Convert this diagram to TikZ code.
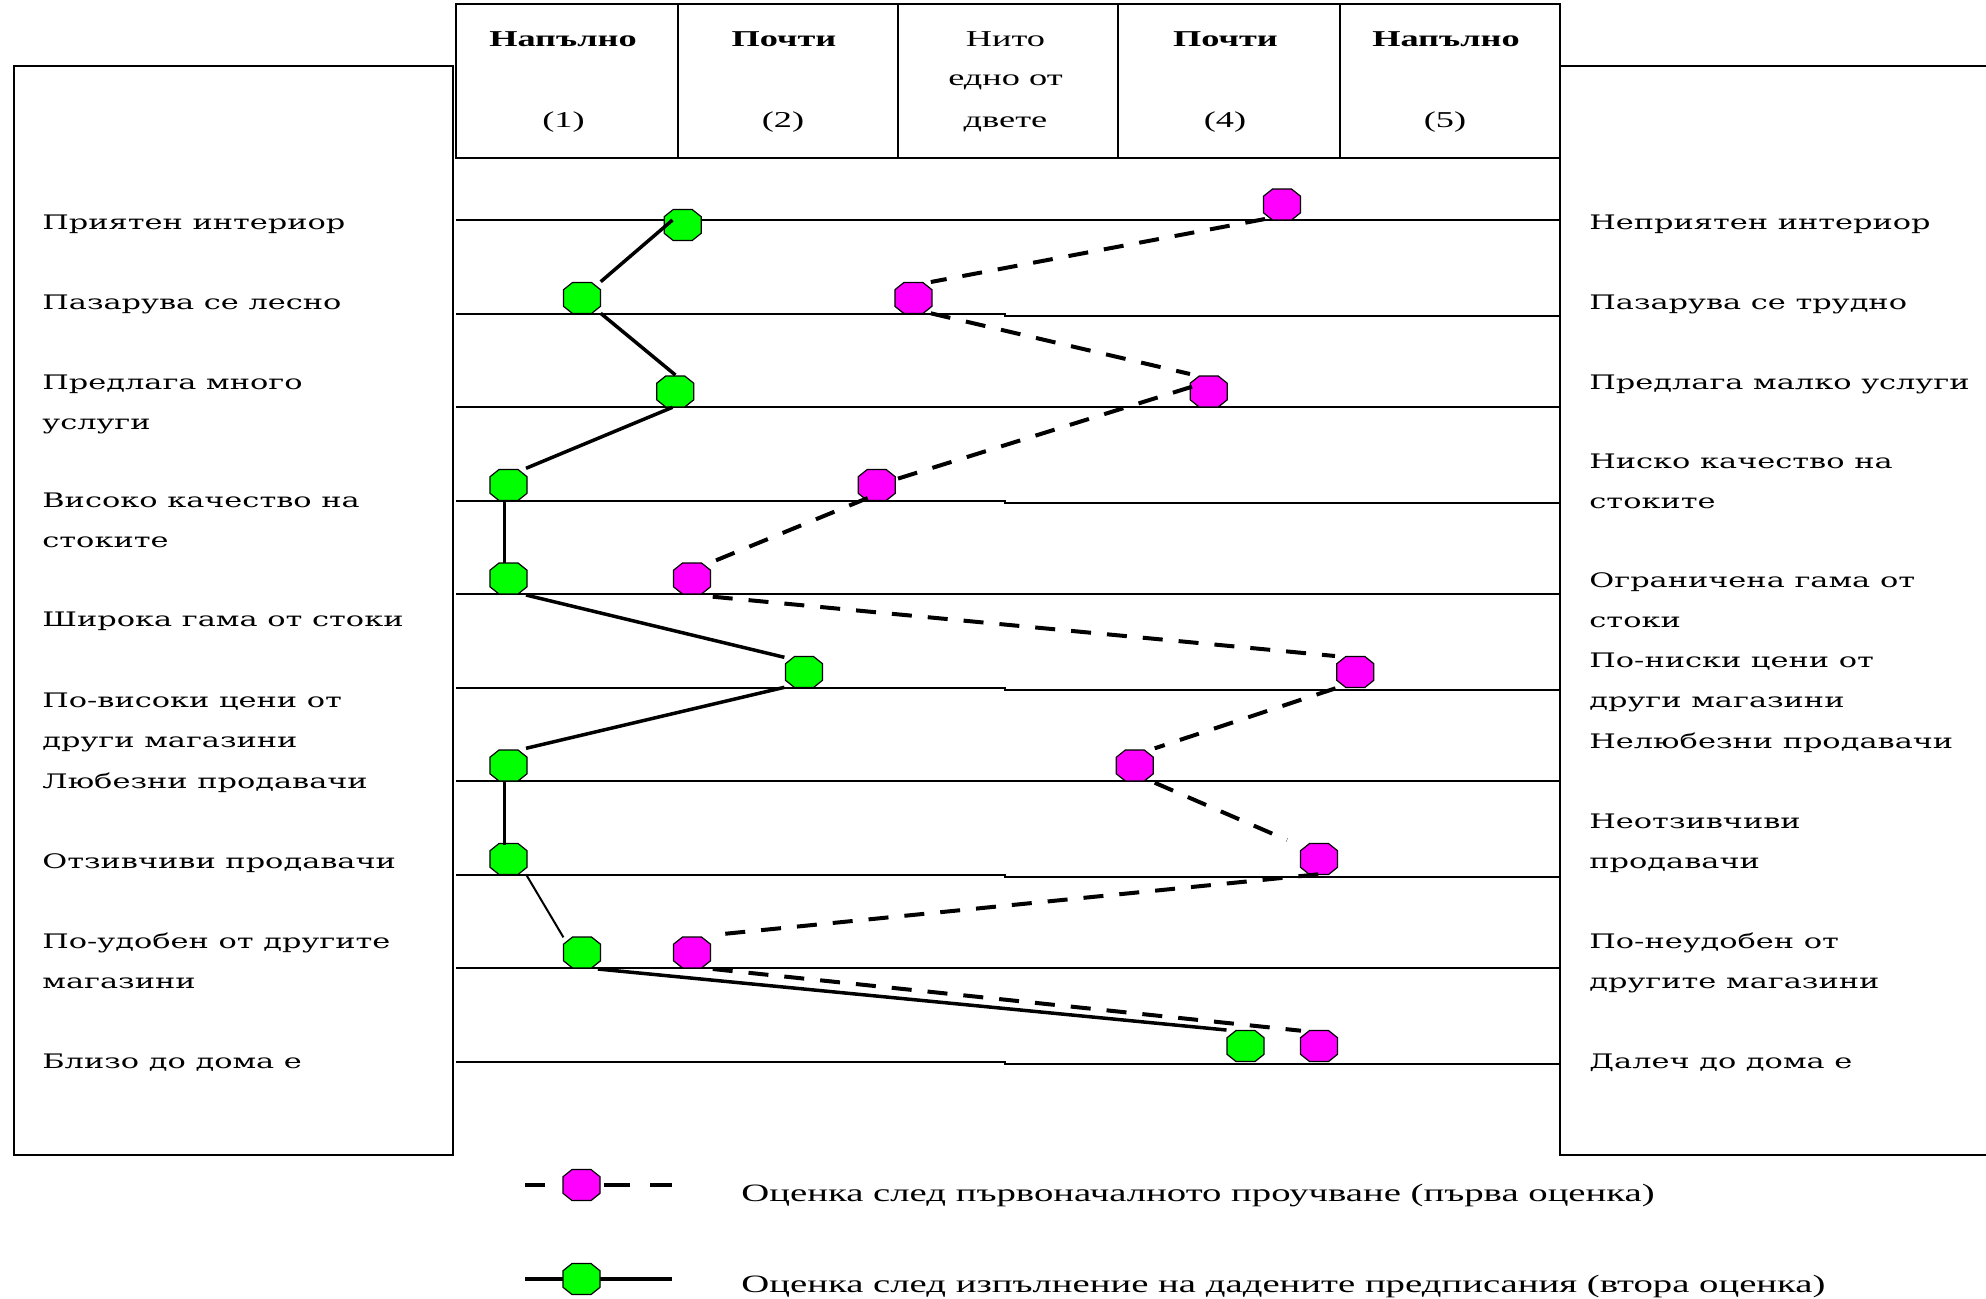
\documentclass[tikz,border=0pt]{standalone}
\usepackage{fontspec}
\setmainfont{Liberation Serif}
\newfontfamily\sidefont[FakeStretch=1.52]{DejaVu Serif}
\newfontfamily\headfont[FakeStretch=1.6]{Liberation Serif}
\newfontfamily\keyfont[FakeStretch=1.55]{Liberation Serif}
\usetikzlibrary{calc}
\definecolor{dotgreen}{RGB}{0,255,0}
\definecolor{dotmagenta}{RGB}{255,0,255}
\begin{document}
\begin{tikzpicture}[x=0.5pt,y=-0.5pt,
  frame/.style={draw=black,line width=1.25pt},
  rowline/.style={draw=black,line width=1pt},
  side/.style={anchor=base west,inner sep=0pt,align=left,
    font=\sidefont\fontsize{10}{20}\selectfont},
  head/.style={anchor=base,inner sep=0pt,font=\headfont\fontsize{11.35}{20}\selectfont},
  headbold/.style={head,font=\headfont\bfseries\fontsize{11.35}{20}\selectfont},
  keytext/.style={anchor=base west,inner sep=0pt,font=\keyfont\fontsize{12.5}{20}\selectfont},
  pics/octa/.style={code={
    \filldraw[fill=#1,draw=black,line width=0.6pt]
      (-4.75pt,7.75pt) -- (4.75pt,7.75pt) -- (9.25pt,4.15pt) -- (9.25pt,-4.15pt)
      -- (4.75pt,-7.75pt) -- (-4.75pt,-7.75pt) -- (-9.25pt,-4.15pt) -- (-9.25pt,4.15pt)
      -- cycle;}},
  firstline/.style={line width=2pt,dash pattern=on 10pt off 8pt},
  secondline/.style={line width=1.75pt},
]
\useasboundingbox[fill=white] (0,0) rectangle (1986,1298);

% side boxes
\draw[frame] (14,66) rectangle (453,1155);
\draw[frame] (1560,66) rectangle (2010,1155);

% scale header
\draw[frame] (456,4) rectangle (1560,158);
\foreach \cx in {678,898,1118,1340} \draw[frame] (\cx,4) -- (\cx,158);

\node[headbold] (h1) at (563,46.7) {Напълно};
\node[headbold] (h2) at (784,46.7) {Почти};
\node[head]     (h3) at (1005.5,46.7) {Нито};
\node[headbold] (h4) at (1225.5,46.7) {Почти};
\node[headbold] (h5) at (1446,46.7) {Напълно};
\node[head] (h3b) at (1005.5,85) {едно от};
\node[head] (n1) at (563.5,127) {(1)};
\node[head] (n2) at (783,127) {(2)};
\node[head] (h3c) at (1005.5,127) {двете};
\node[head] (n4) at (1225,127) {(4)};
\node[head] (n5) at (1445,127) {(5)};

% row lines
\foreach \yy in {220,407,594,781,968}
  \draw[rowline] (456,\yy) -- (1560,\yy);
\foreach \yy in {313.5,500.5,687.5,874.5,1061.5}
  \draw[rowline] (456,\yy) -- (1005,\yy) -- (1005,\yy+2) -- (1560,\yy+2);

% left-hand labels (multi-line ones are placed by their last baseline)
\node[side] (l1) at (42,229.4) {Приятен интериор};
\node[side] (l2) at (42,309.5) {Пазарува се лесно};
\node[side] (l3) at (42,429) {Предлага много\\услуги};
\node[side] (l4) at (42,547) {Високо качество на\\стоките};
\node[side] (l5) at (42,626) {Широка гама от стоки};
\node[side] (l6) at (42,747.7) {По-високи цени от\\други магазини};
\node[side] (l7) at (42,788) {Любезни продавачи};
\node[side] (l8) at (42,868) {Отзивчиви продавачи};
\node[side] (l9) at (42,988) {По-удобен от другите\\магазини};
\node[side] (l10) at (42,1068.6) {Близо до дома е};

% right-hand labels
\node[side] (r1) at (1589,229.4) {Неприятен интериор};
\node[side] (r2) at (1589,309.5) {Пазарува се трудно};
\node[side] (r3) at (1589,389) {Предлага малко услуги};
\node[side] (r4) at (1589,508) {Ниско качество на\\стоките};
\node[side] (r5) at (1589,627.5) {Ограничена гама от\\стоки};
\node[side] (r6) at (1589,707.6) {По-ниски цени от\\други магазини};
\node[side] (r7) at (1589,748) {Нелюбезни продавачи};
\node[side] (r8) at (1589,868) {Неотзивчиви\\продавачи};
\node[side] (r9) at (1589,988) {По-неудобен от\\другите магазини};
\node[side] (r10) at (1589,1068.6) {Далеч до дома е};

% second evaluation points
\coordinate (g1) at (682.7,225);
\coordinate (g2) at (582,298);
\coordinate (g3) at (675.2,391.5);
\coordinate (g4) at (508.5,485);
\coordinate (g5) at (508.5,578.5);
\coordinate (g6) at (804,672);
\coordinate (g7) at (508.5,765.5);
\coordinate (g8) at (508.5,859);
\coordinate (g9) at (582,952.5);
\coordinate (g10) at (1245.5,1046);

% first evaluation points
\coordinate (m1) at (1282,204.5);
\coordinate (m2) at (913.4,298);
\coordinate (m3) at (1208.7,391.5);
\coordinate (m4) at (876.7,485);
\coordinate (m5) at (692,578.5);
\coordinate (m6) at (1355.3,672);
\coordinate (m7) at (1134.8,765.5);
\coordinate (m8) at (1319,859);
\coordinate (m9) at (692,952.5);
\coordinate (m10) at (1319,1046);

\foreach \p in {g1,g2,g3,g4,g5,g6,g7,g8,g9,g10} \pic at (\p) {octa=dotgreen};
\foreach \p in {m1,m2,m3,m4,m5,m6,m7,m8,m9,m10} \pic at (\p) {octa=dotmagenta};

% second evaluation profile
\draw[secondline] ($(g1)+(-10.2,-5)$) -- ($(g2)+(18.7,-16.3)$);
\draw[secondline] ($(g2)+(18.7,15.3)$) -- ($(g3)+(0.2,-16.5)$);
\draw[secondline] ($(g3)+(-2.7,15.8)$) -- ($(g4)+(17.5,-16.7)$);
\draw[secondline] ($(g4)+(-4.2,15)$) -- ($(g5)+(-4.2,-15.8)$);
\draw[secondline] ($(g5)+(17.5,16.5)$) -- ($(g6)+(-19.6,-14.7)$);
\draw[secondline] ($(g6)+(-19.6,15.3)$) -- ($(g7)+(17.5,-17.2)$);
\draw[secondline] ($(g7)+(-4.2,16.2)$) -- ($(g8)+(-4.2,-14)$);
\draw[line width=1pt] ($(g8)+(17.5,15.3)$) -- ($(g9)+(-18.6,-15.2)$);
\draw[secondline] ($(g9)+(15.9,16.5)$) -- ($(g10)+(-19,-16)$);

% first evaluation profile
\draw[firstline] ($(m1)+(-17,14.5)$) -- ($(m2)+(17.4,-16)$);
\draw[firstline] ($(m2)+(17.4,15.3)$) -- ($(m3)+(-18.7,-17.5)$);
\draw[firstline] ($(m3)+(-16.7,-4.8)$) -- ($(m4)+(16.8,-5)$);
\draw[firstline] ($(m4)+(-9,13)$) -- ($(m5)+(20.7,-16.8)$);
\draw[firstline] ($(m5)+(20.7,18.2)$) -- ($(m6)+(-20.3,-16)$);
\draw[firstline] ($(m6)+(-19.8,16.3)$) -- ($(m7)+(19.9,-17.2)$);
\draw[firstline] ($(m7)+(19.9,17.2)$) -- ($(m8)+(-32,-19)$);
\draw[firstline] ($(m8)+(-0.7,15.3)$) -- ($(m9)+(20.7,-17.5)$);
\draw[firstline] ($(m9)+(20.7,16.5)$) -- ($(m10)+(-18,-15.3)$);

% key
\coordinate (ka) at (525,1185);
\coordinate (kb) at (672,1185);
\coordinate (k1) at (581.5,1185);
\draw[line width=2.2pt,dash pattern=on 10pt off 29.5pt on 13pt off 10pt on 11pt] (ka) -- (kb);
\pic at (k1) {octa=dotmagenta};
\node[keytext] (t1) at (741,1201.7) {Оценка след първоначалното проучване (първа оценка)};

\coordinate (kc) at (525,1279);
\coordinate (kd) at (672,1279);
\coordinate (k2) at (581.5,1279);
\draw[line width=2.2pt] (kc) -- (kd);
\pic at (k2) {octa=dotgreen};
\node[keytext] (t2) at (741,1292.5) {Оценка след изпълнение на дадените предписания (втора оценка)};
\end{tikzpicture}
\end{document}
